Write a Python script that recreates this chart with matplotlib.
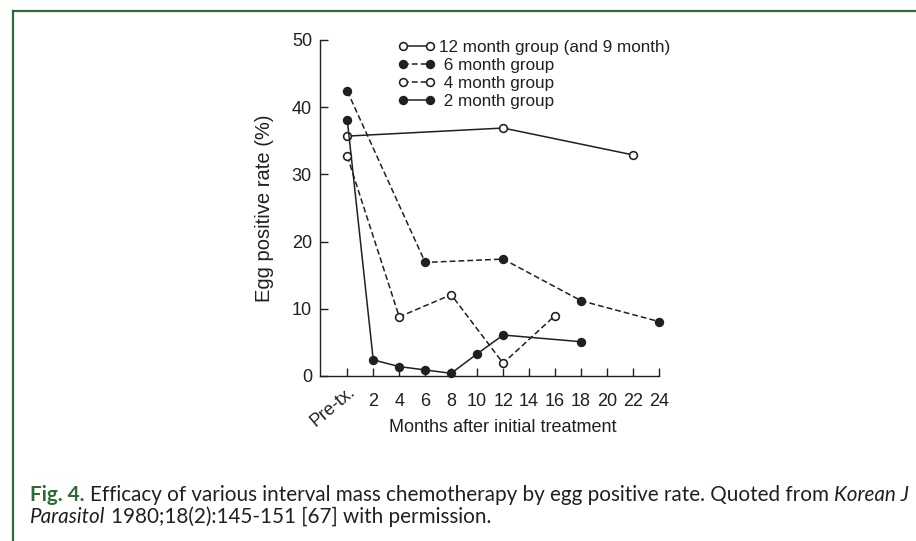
import matplotlib
matplotlib.use('Agg')
import matplotlib.pyplot as plt
from matplotlib.lines import Line2D
from matplotlib.legend_handler import HandlerLine2D
import matplotlib.transforms as mtransforms

# ---- data ----
months_12 = [0, 12, 22]
rate_12 = [35.7, 36.9, 32.9]
months_6 = [0, 6, 12, 18, 24]
rate_6 = [42.4, 16.9, 17.4, 11.2, 8.1]
months_4 = [0, 4, 8, 12, 16]
rate_4 = [32.7, 8.8, 12.1, 1.9, 9.0]
months_2 = [0, 2, 4, 6, 8, 10, 12, 18]
rate_2 = [38.1, 2.4, 1.4, 0.9, 0.4, 3.3, 6.1, 5.1]

series_labels = ["12 month group (and 9 month)", " 6 month group",
                 " 4 month group", " 2 month group"]
xticks = [0, 2, 4, 6, 8, 10, 12, 14, 16, 18, 20, 22, 24]
xticklabels = ["Pre-tx.", "2", "4", "6", "8", "10", "12", "14", "16", "18",
               "20", "22", "24"]
yticks = [0, 10, 20, 30, 40, 50]
xlabel = "Months after initial treatment"
ylabel = "Egg positive rate (%)"

W, H = 916, 541
DPI = 100
TXT = '#231f20'
GREEN = '#2e6b37'

plt.rcParams['font.family'] = ['Liberation Sans', 'DejaVu Sans']

fig = plt.figure(figsize=(W / DPI, H / DPI), dpi=DPI)
fig.patch.set_facecolor('white')

ax = fig.add_axes([320 / W, (H - 376) / H, 339 / W, 336 / H])
ax.set_xlim(-2.1, 24)
ax.set_ylim(0, 50)

lw = 1.1
ms = 5.6
mew = 1.15
dash = (3.8, 2.0)

common = dict(color=TXT, lw=lw, marker='o', ms=ms, mew=mew, mec=TXT,
              clip_on=False)
l12, = ax.plot(months_12, rate_12, ls='-', mfc='white', zorder=3, **common)
l6, = ax.plot(months_6, rate_6, ls=(0, dash), mfc=TXT, zorder=3, **common)
l4, = ax.plot(months_4, rate_4, ls=(0, dash), mfc='white', zorder=4, **common)
l2, = ax.plot(months_2, rate_2, ls='-', mfc=TXT, zorder=3, **common)

for s in ['top', 'right']:
    ax.spines[s].set_visible(False)
for s in ['left', 'bottom']:
    ax.spines[s].set_color(TXT)
    ax.spines[s].set_linewidth(1.0)

ax.set_xticks(xticks)
ax.set_xticklabels(xticklabels)
ax.set_yticks(yticks)
ax.tick_params(direction='in', length=5.8, width=1.0, color=TXT,
               labelsize=13, labelcolor=TXT)
ax.tick_params(axis='x', pad=12)
ax.tick_params(axis='y', pad=5.8)

first = ax.get_xticklabels()[0]
first.set_rotation(40)
first.set_ha('right')
first.set_va('top')
first.set_rotation_mode('anchor')
first.set_transform(first.get_transform() +
                    mtransforms.ScaledTranslation(0 / DPI, 10 / DPI, fig.dpi_scale_trans))

ax.set_xlabel(xlabel, fontsize=13, color=TXT)
ax.xaxis.set_label_coords(0.5395, -0.128)
ax.set_ylabel(ylabel, fontsize=14.5, color=TXT)
ax.yaxis.set_label_coords(-0.136, 0.5)

leg_fs = 12.3
fs_px = leg_fs * DPI / 72
leg = ax.legend([l12, l6, l4, l2], series_labels, loc='upper left',
                bbox_to_anchor=(403 / W, 1 - 40 / H), bbox_transform=fig.transFigure,
                frameon=False, borderpad=0, borderaxespad=0,
                handlelength=27 / fs_px, handletextpad=9 / fs_px,
                labelspacing=0.17, numpoints=2, fontsize=leg_fs,
                handler_map={Line2D: HandlerLine2D(marker_pad=0)})
for t in leg.get_texts():
    t.set_color(TXT)

# green frame
fig.add_artist(Line2D([12.5 / W, 12.5 / W], [0, 1 - 11 / H], transform=fig.transFigure,
                      color=GREEN, lw=1.6, solid_capstyle='projecting'))
fig.add_artist(Line2D([12.5 / W, 1], [1 - 11 / H, 1 - 11 / H], transform=fig.transFigure,
                      color=GREEN, lw=1.6, solid_capstyle='projecting'))

# caption
cap_family = ['Lato', 'DejaVu Sans']
fig.canvas.draw()
r = fig.canvas.get_renderer()


def width_of(s, size, **kw):
    t = fig.text(0, 0, s, fontsize=size, family=cap_family, **kw)
    w = t.get_window_extent(r).width
    t.remove()
    return w


line1 = [("Fig. 4.", dict(weight='bold', color=GREEN)),
         ("Efficacy of various interval mass chemotherapy by egg positive rate. Quoted from",
          dict(color=TXT)),
         ("Korean J", dict(style='italic', color=TXT))]
line2 = [("Parasitol", dict(style='italic', color=TXT)),
         ("1980;18(2):145-151 [67] with permission.", dict(color=TXT))]

base = 12.0


def line_width(parts, size):
    sp = width_of("a a", size) - width_of("aa", size)
    return sum(width_of(s, size, **kw) for s, kw in parts) + sp * (len(parts) - 1)


w1 = line_width(line1, base)
cap_size = base * 874 / w1


def place(parts, x0, ybase, size):
    sp = width_of("a a", size) - width_of("aa", size)
    x = x0
    for s, kw in parts:
        t = fig.text(x / W, 1 - ybase / H, s, fontsize=size, family=cap_family,
                     ha='left', va='baseline', **kw)
        x += t.get_window_extent(r).width + sp


place(line1, 30, 501, cap_size)
place(line2, 30, 523, cap_size)

fig.savefig('out.png', dpi=DPI, facecolor='white')
